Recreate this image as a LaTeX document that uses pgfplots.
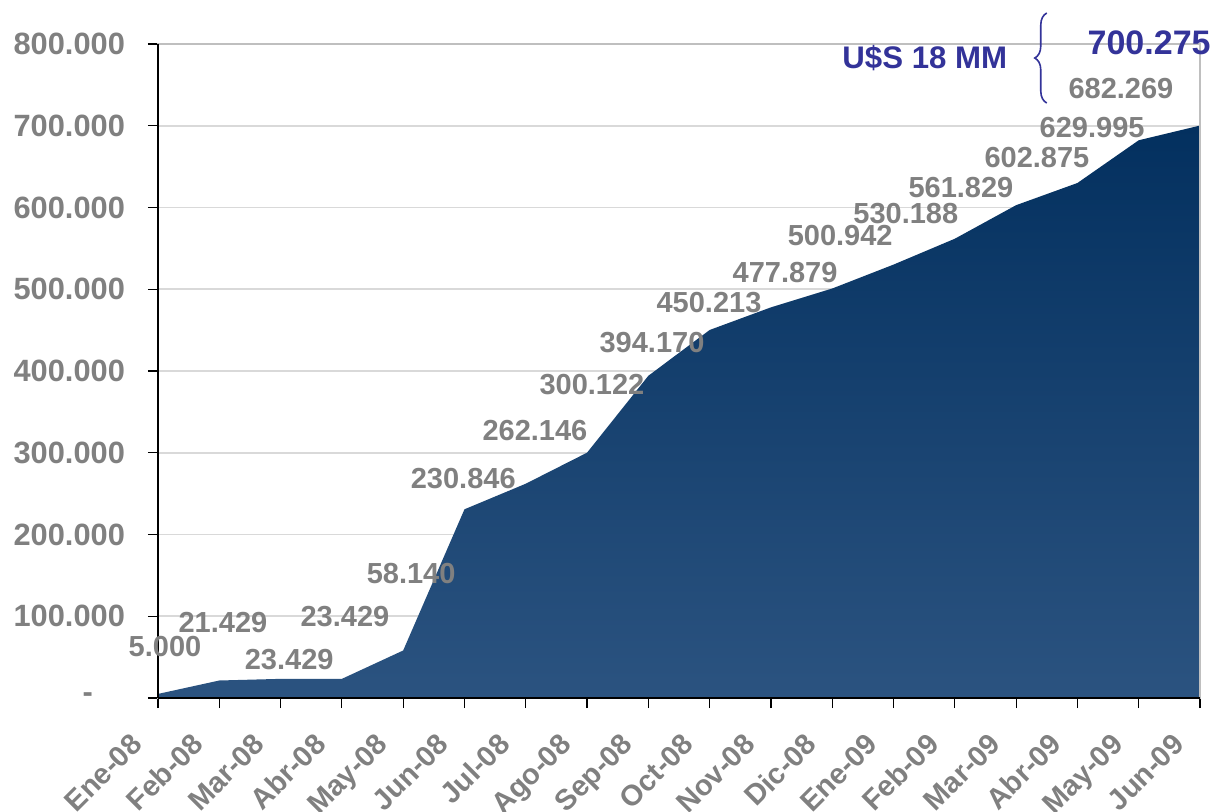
\documentclass[border=0pt]{standalone}
\usepackage{pgfplots}
\pgfplotsset{compat=1.18}
\usepackage{fontspec}
\setmainfont{Liberation Sans}
\usetikzlibrary{decorations.pathreplacing,calc}
\definecolor{lbl}{HTML}{808080}
\definecolor{blu}{HTML}{333399}
\definecolor{areaB}{HTML}{2B5380}
\definecolor{areaT}{HTML}{03305F}
\definecolor{grd}{HTML}{D9D9D9}
\definecolor{frm}{HTML}{BFBFBF}
\tikzset{lab/.style={font=\fontsize{14.5}{17}\selectfont\bfseries, text=lbl, inner sep=0pt},
  xl/.style={font=\fontsize{14.5}{17}\selectfont\bfseries, text=lbl, inner sep=0pt, rotate=45, anchor=base east}}
\newcommand{\xl}[2]{\node[xl] at ($(axis cs:#1,0)+(-7pt,-24pt)$) {#2};}
\begin{document}
\begin{tikzpicture}
\path[use as bounding box] (-79pt,-56.5pt) rectangle (527.5pt,349pt);
\begin{axis}[
  at={(0,0)}, anchor=south west,
  scale only axis, width=521pt, height=327pt,
  xmin=0, xmax=17, ymin=0, ymax=800000,
  xtick={0,...,17},
  xticklabels={},
  ytick={0,100000,200000,300000,400000,500000,600000,700000,800000},
  yticklabels={{\raisebox{-4pt}{-}\hspace*{16pt}},100.000,200.000,300.000,400.000,500.000,600.000,700.000,800.000},
  scaled y ticks=false,
  tick pos=left, tick align=outside,
  major tick length=5pt,
  tick style={black, line width=0.6pt},
  axis line style={frm, line width=0.8pt},
  ymajorgrids, grid style={grd, line width=0.8pt},
  clip=false,
  ticklabel style={font=\fontsize{15.4}{18}\selectfont\bfseries, text=lbl},
  yticklabel style={xshift=-8pt},
]
\addplot[draw=none, top color=areaT, middle color=areaB, bottom color=areaB] coordinates {
(0,5000) (1,21429) (2,23429) (3,23429) (4,58140) (5,230846) (6,262146) (7,300122) (8,394170) (9,450213) (10,477879) (11,500942) (12,530188) (13,561829) (14,602875) (15,629995) (16,682269) (17,700275)
} \closedcycle;
\draw[frm, line width=0.8pt] (rel axis cs:1,0) -- (rel axis cs:1,1);
\draw[black, line width=0.8pt] (rel axis cs:0,0) -- (rel axis cs:0,1);
\draw[black, line width=0.8pt] (rel axis cs:0,0) -- (rel axis cs:1,0);
\xl{0}{Ene-08}\xl{1}{Feb-08}\xl{2}{Mar-08}\xl{3}{Abr-08}\xl{4}{May-08}\xl{5}{Jun-08}
\xl{6}{Jul-08}\xl{7}{Ago-08}\xl{8}{Sep-08}\xl{9}{Oct-08}\xl{10}{Nov-08}\xl{11}{Dic-08}
\xl{12}{Ene-09}\xl{13}{Feb-09}\xl{14}{Mar-09}\xl{15}{Abr-09}\xl{16}{May-09}\xl{17}{Jun-09}
\node[lab] at (axis cs:0.114,63608) {5.000};
\node[lab] at (axis cs:1.06,92966) {21.429};
\node[lab] at (axis cs:2.14,46483) {23.429};
\node[lab] at (axis cs:3.05,99082) {23.429};
\node[lab] at (axis cs:4.13,152905) {58.140};
\node[lab] at (axis cs:4.98,268713) {230.846};
\node[lab] at (axis cs:6.15,327829) {262.146};
\node[lab] at (axis cs:7.08,382874) {300.122};
\node[lab] at (axis cs:8.06,434250) {394.170};
\node[lab] at (axis cs:8.99,483179) {450.213};
\node[lab] at (axis cs:10.23,521100) {477.879};
\node[lab] at (axis cs:11.13,566360) {500.942};
\node[lab] at (axis cs:12.2,592048) {530.188};
\node[lab] at (axis cs:13.1,625076) {561.829};
\node[lab] at (axis cs:14.34,661773) {602.875};
\node[lab] at (axis cs:15.24,698470) {629.995};
\node[lab] at (axis cs:15.71,746176) {682.269};
\node[font=\fontsize{17}{20}\selectfont\bfseries, text=blu, inner sep=0pt] at (axis cs:16.17,801222) {700.275};
\node[font=\fontsize{15.6}{19}\selectfont\bfseries, text=blu, inner sep=0pt] at (axis cs:12.51,782874) {U\$S 18 MM};
\draw[blu, line width=0.8pt, decorate, decoration={brace, amplitude=6pt}] (axis cs:14.5,727830) -- (axis cs:14.5,837920);
\end{axis}
\end{tikzpicture}
\end{document}
